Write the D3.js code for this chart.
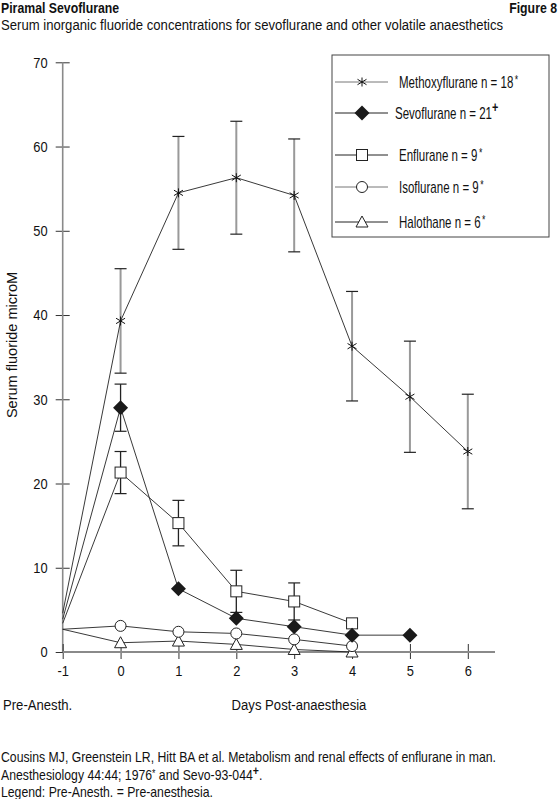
<!DOCTYPE html>
<html lang="en">
<head>
<meta charset="UTF-8">
<title>Figure 8</title>
<script src="https://d3js.org/d3.v7.min.js"></script>
<style>
  body { margin: 0; background: #fff; }
  svg { font-family: "Liberation Sans", Arial, sans-serif; }
</style>
</head>
<body>
<div id="chart"></div>
<script>
// data
const days = [-1, 0, 1, 2, 3, 4, 5, 6];
const methoxyflurane = [4.6, 39.3, 54.5, 56.3, 54.2, 36.3, 30.3, 23.8];
const methoxyErr = [null, 6.2, 6.7, 6.7, 6.7, 6.5, 6.6, 6.8];
const sevoflurane = [3.9, 29.0, 7.5, 4.0, 3.0, 2.0, 2.0, null];
const sevoErr = [null, 2.8, null, null, null, null, null, null];
const enflurane = [3.4, 21.3, 15.3, 7.2, 6.0, 3.4, null, null];
const enfluraneErr = [null, 2.5, 2.7, 2.5, 2.2, null, null, null];
const isoflurane = [2.7, 3.1, 2.4, 2.2, 1.5, 0.7, null, null];
const halothane = [2.7, 1.1, 1.3, 0.9, 0.3, 0.0, null, null];
const yTicks = [0, 10, 20, 30, 40, 50, 60, 70];

const series = [
  { name: "Methoxyflurane n = 18", mark: "*", values: methoxyflurane, err: methoxyErr, sym: "star" },
  { name: "Sevoflurane n = 21", mark: "+", values: sevoflurane, err: sevoErr, sym: "diamond" },
  { name: "Enflurane n = 9", mark: "*", values: enflurane, err: enfluraneErr, sym: "square" },
  { name: "Isoflurane n = 9", mark: "*", values: isoflurane, err: null, sym: "circle" },
  { name: "Halothane n = 6", mark: "*", values: halothane, err: null, sym: "triangle" }
];

const W = 559, H = 799;
const K = 0.875; // narrow the font, the original uses a condensed face
const svg = d3.select("#chart").append("svg").attr("width", W).attr("height", H);

const x = d3.scaleLinear().domain([-1, 6.47]).range([62.7, 495]);
const y = d3.scaleLinear().domain([0, 70]).range([652, 62.3]);

// text helper: squeeze horizontally around the anchor point
function txt(parent, tx, ty, str, size, k) {
  return parent.append("text")
    .attr("transform", `translate(${tx},${ty}) scale(${k || K},1)`)
    .attr("font-size", size || 15)
    .attr("fill", "#111")
    .text(str);
}

// header
txt(svg, 1, 13, "Piramal Sevoflurane", 15, 0.82).attr("font-weight", "bold");
txt(svg, 557, 13, "Figure 8", 15, 0.82).attr("font-weight", "bold").attr("text-anchor", "end");
txt(svg, 1, 30, "Serum inorganic fluoride concentrations for sevoflurane and other volatile anaesthetics");

// axes
const axisCol = "#8a8a8a";
const yAxis = svg.append("g").attr("transform", `translate(${x(-1)},0)`)
  .call(d3.axisLeft(y).tickValues(yTicks).tickSize(7).tickFormat(d => String(d)));
yAxis.select(".domain").remove();
yAxis.selectAll(".tick line").attr("x2", 7).attr("x1", -7).attr("stroke", "#333");
yAxis.selectAll(".tick text").attr("x", null).attr("transform", `translate(-15,0) scale(0.86,1)`)
  .attr("font-size", 15).attr("font-family", null).attr("fill", "#111");
yAxis.append("line").attr("y1", y(70)).attr("y2", y(0)).attr("stroke", axisCol).attr("stroke-width", 1.6);

const xAxis = svg.append("g").attr("transform", `translate(0,${y(0)})`)
  .call(d3.axisBottom(x).tickValues(days).tickSize(7).tickFormat(d => String(d)));
xAxis.select(".domain").remove();
xAxis.selectAll(".tick line").attr("y1", -8).attr("y2", 7).attr("stroke", "#333");
xAxis.selectAll(".tick text").attr("y", null).attr("dy", "0.71em").attr("transform", `translate(0,13) scale(0.86,1)`)
  .attr("font-size", 15).attr("font-family", null).attr("fill", "#111");
xAxis.append("line").attr("x1", x(-1)).attr("x2", 495).attr("stroke", axisCol).attr("stroke-width", 2);

txt(svg, 3, 710, "Pre-Anesth.");
txt(svg, 299, 710, "Days Post-anaesthesia").attr("text-anchor", "middle");
svg.append("text").attr("transform", `translate(17,345) rotate(-90) scale(0.97,1)`)
  .attr("text-anchor", "middle").attr("font-size", 15).attr("fill", "#111").text("Serum fluoride microM");

// symbols
function drawSym(g, sym, cx, cy) {
  if (sym === "star") {
    const s = 4.5;
    g.append("path").attr("d", `M${cx},${cy - s}V${cy + s}M${cx - s},${cy - s * 0.6}L${cx + s},${cy + s * 0.6}M${cx - s},${cy + s * 0.6}L${cx + s},${cy - s * 0.6}`)
      .attr("stroke", "#111").attr("stroke-width", 1);
  } else if (sym === "diamond") {
    g.append("path").attr("d", `M${cx},${cy - 7.5}L${cx + 7.5},${cy}L${cx},${cy + 7.5}L${cx - 7.5},${cy}Z`).attr("fill", "#1a1a1a");
  } else if (sym === "square") {
    g.append("rect").attr("x", cx - 5.5).attr("y", cy - 5.5).attr("width", 11).attr("height", 11)
      .attr("fill", "#fff").attr("stroke", "#222").attr("stroke-width", 1);
  } else if (sym === "circle") {
    g.append("circle").attr("cx", cx).attr("cy", cy).attr("r", 5.5)
      .attr("fill", "#fff").attr("stroke", "#222").attr("stroke-width", 1);
  } else if (sym === "triangle") {
    g.append("path").attr("d", `M${cx},${cy - 6}L${cx + 6},${cy + 5}L${cx - 6},${cy + 5}Z`)
      .attr("fill", "#fff").attr("stroke", "#222").attr("stroke-width", 1);
  }
}

const line = d3.line().defined(d => d.v !== null).x(d => x(d.day)).y(d => y(d.v));

// error bars first (under the lines)
series.forEach((s, si) => {
  if (!s.err) return;
  const col = si === 0 ? "#999" : "#222";
  const sw = si === 0 ? 2 : 1.3;
  days.forEach((d, i) => {
    const e = s.err[i];
    if (e === null || s.values[i] === null) return;
    const cx = x(d), v = s.values[i];
    const g = svg.append("g").attr("stroke", col).attr("stroke-width", sw);
    g.append("line").attr("x1", cx).attr("x2", cx).attr("y1", y(v - e)).attr("y2", y(v + e));
    g.append("line").attr("x1", cx - 6).attr("x2", cx + 6).attr("y1", y(v + e)).attr("y2", y(v + e)).attr("stroke", "#222").attr("stroke-width", 1.2);
    g.append("line").attr("x1", cx - 6).attr("x2", cx + 6).attr("y1", y(v - e)).attr("y2", y(v - e)).attr("stroke", "#222").attr("stroke-width", 1.2);
  });
});

series.forEach(s => {
  const pts = days.map((d, i) => ({ day: d, v: s.values[i] }));
  svg.append("path").datum(pts).attr("d", line).attr("fill", "none").attr("stroke", "#222").attr("stroke-width", 0.9);
});

series.slice().reverse().forEach(s => {
  const g = svg.append("g");
  days.forEach((d, i) => {
    if (i === 0 || s.values[i] === null) return;
    drawSym(g, s.sym, x(d), y(s.values[i]));
  });
});

// legend
const lg = svg.append("g");
lg.append("rect").attr("x", 332).attr("y", 55).attr("width", 217).attr("height", 182)
  .attr("fill", "#fff").attr("stroke", "#444").attr("stroke-width", 1);
const legendY = [82, 113, 155, 187, 222];
series.forEach((s, i) => {
  const ly = legendY[i];
  lg.append("line").attr("x1", 335).attr("x2", 388).attr("y1", ly).attr("y2", ly).attr("stroke", i === 0 || i === 3 ? "#777" : "#222").attr("stroke-width", 1);
  drawSym(lg, s.sym, 362, ly);
  const t = txt(lg, i === 1 ? 395 : 399, ly + 6, s.name, 16, 0.72);
  if (s.mark === "+") {
    t.append("tspan").attr("dy", -7).attr("font-size", 15).attr("font-weight", "bold").text("+");
  } else {
    t.append("tspan").attr("dx", 2).attr("dy", -4).attr("font-size", 12).text("*");
  }
});

// footer
const foot = svg.append("g");
txt(foot, 1, 762, "Cousins MJ, Greenstein LR, Hitt BA et al. Metabolism and renal effects of enflurane in man.", 14);
const f2 = txt(foot, 1, 780, "Anesthesiology 44:44; 1976", 14);
f2.append("tspan").attr("dy", -3).attr("font-size", 10).text("*");
f2.append("tspan").attr("dy", 3).text(" and Sevo-93-044");
f2.append("tspan").attr("dy", -5).attr("font-size", 12).attr("font-weight", "bold").text("+");
f2.append("tspan").attr("dy", 5).text(".");
txt(foot, 1, 797, "Legend: Pre-Anesth. = Pre-anesthesia.", 14);
</script>
</body>
</html>
